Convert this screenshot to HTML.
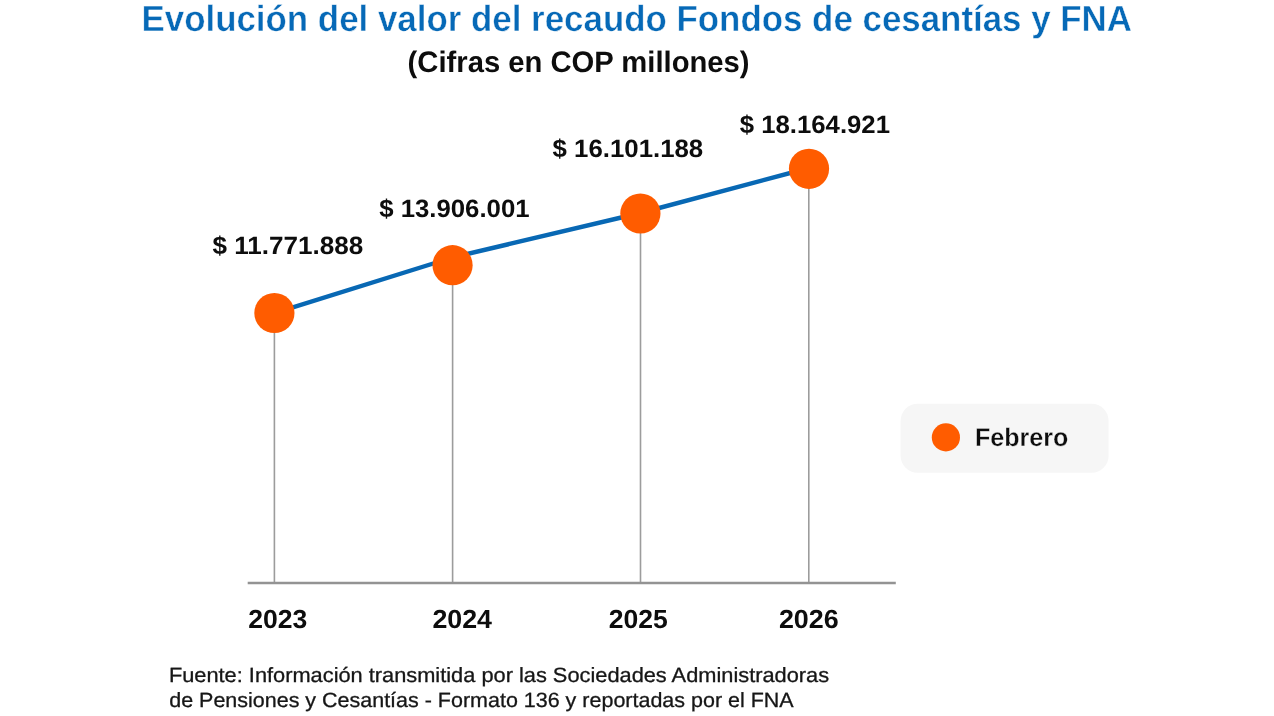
<!DOCTYPE html>
<html lang="es">
<head>
<meta charset="utf-8">
<title>Evolución del valor del recaudo Fondos de cesantías y FNA</title>
<style>
  html, body { margin: 0; padding: 0; background: #ffffff; }
  body { width: 1274px; height: 716px; overflow: hidden; position: relative;
         font-family: "Liberation Sans", sans-serif; }
  svg { position: absolute; left: 0; top: 0; display: block; }
  text { font-family: "Liberation Sans", sans-serif; text-rendering: geometricPrecision; }
  .b { font-weight: bold; }
</style>
</head>
<body>
<svg width="1274" height="716" viewBox="0 0 1274 716">
  <rect x="0" y="0" width="1274" height="716" fill="#ffffff"/>

  <!-- Title -->
  <text class="b" x="141.5" y="30.6" font-size="36.4" fill="#0669b7" stroke="#ffffff" stroke-width="0.45" textLength="990.5" lengthAdjust="spacingAndGlyphs">Evolución del valor del recaudo Fondos de cesantías y FNA</text>
  <text class="b" x="407.6" y="71.7" font-size="29.6" fill="#0d0d0d" textLength="342" lengthAdjust="spacingAndGlyphs">(Cifras en COP millones)</text>

  <!-- Drop lines -->
  <g stroke="#9c9c9c" stroke-width="1.6">
    <line x1="274.4" y1="313" x2="274.4" y2="583"/>
    <line x1="452.6" y1="265" x2="452.6" y2="583"/>
    <line x1="640.5" y1="213.6" x2="640.5" y2="583"/>
    <line x1="808.8" y1="168.8" x2="808.8" y2="583"/>
  </g>
  <!-- Axis -->
  <line x1="247.7" y1="583" x2="895.8" y2="583" stroke="#939393" stroke-width="2.5"/>

  <!-- Series line -->
  <polyline points="274.4,313.2 452.5,257.5 640.4,213 809,168" fill="none" stroke="#0868b4" stroke-width="4.4" stroke-linejoin="round" stroke-linecap="round"/>

  <!-- Markers -->
  <g fill="#ff5c00">
    <circle cx="274.4" cy="313" r="20.1"/>
    <circle cx="452.55" cy="265.2" r="20.1"/>
    <circle cx="640.4" cy="213.5" r="20.1"/>
    <circle cx="809" cy="168.8" r="20.1"/>
  </g>

  <!-- Value labels -->
  <g class="b" font-size="25" fill="#0d0d0d">
    <text x="212.6" y="254" textLength="150.6" lengthAdjust="spacingAndGlyphs">$ 11.771.888</text>
    <text x="379.2" y="217" textLength="150.4" lengthAdjust="spacingAndGlyphs">$ 13.906.001</text>
    <text x="552.6" y="157" textLength="150.6" lengthAdjust="spacingAndGlyphs">$ 16.101.188</text>
    <text x="739.7" y="133" textLength="150.3" lengthAdjust="spacingAndGlyphs">$ 18.164.921</text>
  </g>

  <!-- Year labels -->
  <g class="b" font-size="26.1" fill="#0d0d0d">
    <text x="248.2" y="628" textLength="59.1" lengthAdjust="spacingAndGlyphs">2023</text>
    <text x="432.4" y="628" textLength="59.6" lengthAdjust="spacingAndGlyphs">2024</text>
    <text x="608.8" y="628" textLength="59.1" lengthAdjust="spacingAndGlyphs">2025</text>
    <text x="778.9" y="628" textLength="59.8" lengthAdjust="spacingAndGlyphs">2026</text>
  </g>

  <!-- Legend -->
  <rect x="900.6" y="403.7" width="208" height="69.1" rx="17" ry="17" fill="#f6f6f6"/>
  <circle cx="945.9" cy="437.4" r="14.1" fill="#ff5c00"/>
  <text class="b" x="975" y="446" font-size="25.5" fill="#0d0d0d" stroke="#f6f6f6" stroke-width="0.3" textLength="93.4" lengthAdjust="spacingAndGlyphs">Febrero</text>

  <!-- Source -->
  <g font-size="20.6" fill="#161616" stroke="#161616" stroke-width="0.3">
    <text x="168.9" y="682" textLength="660.2" lengthAdjust="spacingAndGlyphs">Fuente: Información transmitida por las Sociedades Administradoras</text>
    <text x="169.2" y="707" textLength="624.5" lengthAdjust="spacingAndGlyphs">de Pensiones y Cesantías - Formato 136 y reportadas por el FNA</text>
  </g>
</svg>
</body>
</html>
